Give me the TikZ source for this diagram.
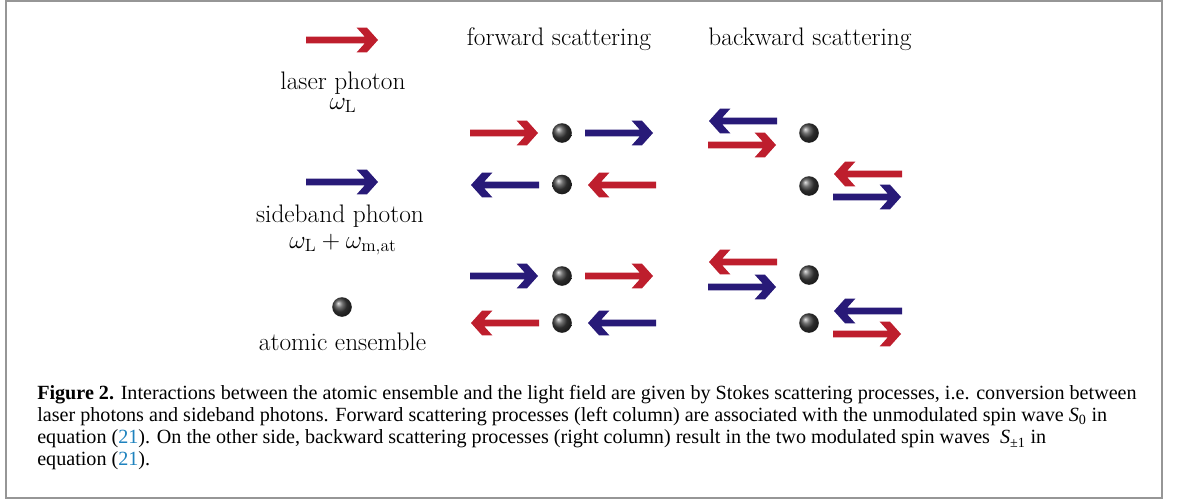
\RequirePackage{fix-cm}
\documentclass[tikz,border=0pt]{standalone}
\usepackage{fontspec}
\newfontfamily\capfont{Liberation Serif}
\definecolor{laserred}{RGB}{190,30,45}
\definecolor{sideblue}{RGB}{40,26,120}
\definecolor{linkblue}{RGB}{30,130,190}
\definecolor{framegray}{RGB}{150,150,150}
\newcommand\photonarrow[5]{% tip x, tip y, direction (1 right / -1 left), colour, length
  \fill[#4, shift={(#1,#2)}, xscale=#3] (0,0) -- (-11,-12.3) -- (-21.3,-12.3) -- (-13.3,-3.4)
    -- (-#5,-3.4) -- (-#5,3.4) -- (-13.3,3.4) -- (-21.3,12.3) -- (-11,12.3) -- cycle;}
\newcommand\atomball[2]{\shade[ball color=black!75] (#1,#2) circle (9.8);}
\tikzset{
  lbl/.style={font=\fontsize{19}{22}\selectfont, inner sep=0pt, anchor=base},
  capline/.style={font=\capfont\fontsize{15.1}{17}\selectfont, inner sep=0pt, anchor=base west},
}
\begin{document}
\begin{tikzpicture}[x=0.75pt, y=-0.75pt]
\useasboundingbox (0,0) rectangle (1179,500);
\draw[framegray, line width=1.5pt] (6,1) rectangle (1162,498);
% legend
\photonarrow{378}{40}{1}{laserred}{72}
\node[lbl] (laser) at (343,89) {laser photon};
\node[lbl] (omL) at (343,109) {$\omega_{\mathrm{L}}$};
\photonarrow{378}{182}{1}{sideblue}{72}
\node[lbl] (side) at (340,222) {sideband photon};
\node[lbl] (omS) at (343,248) {$\omega_{\mathrm{L}}+\omega_{\mathrm{m,at}}$};
\atomball{342}{307}
\node[lbl] (atom) at (342.5,350) {atomic ensemble};
% headings
\node[lbl] (fwd) at (559,45) {forward scattering};
\node[lbl] (bwd) at (810,45) {backward scattering};
% forward column
\photonarrow{538}{133}{1}{laserred}{68}
\atomball{562}{133}
\photonarrow{653}{133}{1}{sideblue}{68}
\photonarrow{471}{185}{-1}{sideblue}{68}
\atomball{562}{184.5}
\photonarrow{588}{185}{-1}{laserred}{68}
\photonarrow{538}{276}{1}{sideblue}{68}
\atomball{562}{276}
\photonarrow{653}{276}{1}{laserred}{68}
\photonarrow{471}{323}{-1}{laserred}{68}
\atomball{562}{323}
\photonarrow{588}{323}{-1}{sideblue}{68}
% backward column
\photonarrow{709}{121}{-1}{sideblue}{68}
\photonarrow{776}{145}{1}{laserred}{68}
\atomball{809}{133}
\atomball{809}{186}
\photonarrow{834}{174}{-1}{laserred}{68}
\photonarrow{901}{197}{1}{sideblue}{68}
\photonarrow{709}{262}{-1}{laserred}{68}
\photonarrow{776}{287}{1}{sideblue}{68}
\atomball{809}{275}
\atomball{809}{323}
\photonarrow{834}{311}{-1}{sideblue}{68}
\photonarrow{901}{334}{1}{laserred}{68}
% caption
\node[capline] (c1) at (37,399) {\textbf{Figure 2.} Interactions between the atomic ensemble and the light field are given by Stokes scattering processes, i.e. conversion between};
\node[capline] (c2) at (37,421) {laser photons and sideband photons. Forward scattering processes (left column) are associated with the unmodulated spin wave \textit{S}\textsubscript{0} in};
\node[capline] (c3) at (37,443) {equation (\textcolor{linkblue}{21}). On the other side, backward scattering processes (right column) result in the two modulated spin waves \ \textit{S}\textsubscript{\raisebox{-0.3ex}{±1}} in};
\node[capline] (c4) at (37,465) {equation (\textcolor{linkblue}{21}).};
\end{tikzpicture}
\end{document}
